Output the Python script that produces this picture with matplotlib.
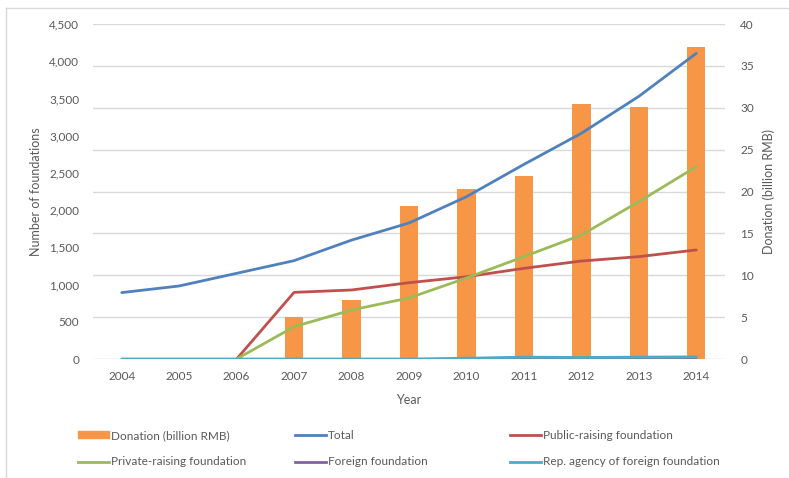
import numpy as np
import matplotlib.pyplot as plt
from matplotlib.lines import Line2D
from matplotlib.patches import Patch

plt.rcParams['font.family'] = ['Lato', 'DejaVu Sans']

# foundations in China, 2004-2014
years = ['2004', '2005', '2006', '2007', '2008', '2009', '2010', '2011', '2012', '2013', '2014']
donation = [np.nan, np.nan, np.nan, 5.0, 7.0, 18.3, 20.3, 21.9, 30.4, 30.1, 37.3]  # billion RMB
total = [892, 981, 1151, 1321, 1597, 1827, 2180, 2614, 3032, 3528, 4106]
public_raising = [np.nan, np.nan, 0, 895, 927, 1025, 1105, 1218, 1316, 1375, 1465]
private_raising = [np.nan, np.nan, 0, 434, 658, 820, 1088, 1375, 1666, 2113, 2583]
foreign = [0, 0, 0, 0, 0, 0, 0, 0, 0, 0, 0]
rep_agency = [0, 0, 0, 0, 0, 0, 10, 25, 20, 25, 29]

c_orange = '#F79646'
c_blue = '#4F81BD'
c_red = '#C0504D'
c_green = '#9BBB59'
c_purple = '#8064A2'
c_aqua = '#4BACC6'
txt = '#595959'
grid = '#D9D9D9'

W, H = 789, 478
fig = plt.figure(figsize=(W / 100, H / 100), dpi=100)
ax = fig.add_axes([93 / W, 1 - 359 / H, (725 - 93) / W, (359 - 24) / H])
ax2 = ax.twinx()

x = np.arange(len(years))

# bars on the secondary axis, drawn underneath the lines
ax2.bar(x, donation, width=0.32, color=c_orange, zorder=1)
ax2.set_ylim(0, 40)
ax2.set_yticks(range(0, 41, 5))

ax.set_zorder(ax2.get_zorder() + 1)
ax.patch.set_visible(False)

lw = 2.0
ax.plot(x, total, color=c_blue, lw=lw, solid_capstyle='round')
ax.plot(x, public_raising, color=c_red, lw=lw, solid_capstyle='round')
ax.plot(x, private_raising, color=c_green, lw=lw, solid_capstyle='round')
ax.plot(x, foreign, color=c_purple, lw=lw, solid_capstyle='round')
ax.plot(x, rep_agency, color=c_aqua, lw=lw, solid_capstyle='round')

ax.set_xlim(-0.5, len(years) - 0.5)
ax.set_ylim(0, 4500)
ax.set_yticks(range(0, 4501, 500))
ax.set_yticklabels([f'{v:,}' for v in range(0, 4501, 500)])
ax.set_xticks(x)
ax.set_xticklabels(years)

ax2.yaxis.grid(True, color=grid, lw=1)
ax2.set_axisbelow(True)

for a in (ax, ax2):
    for s in a.spines.values():
        s.set_visible(False)
    a.tick_params(length=0, labelsize=8.5, colors=txt)
ax.tick_params(axis='x', pad=9)
ax.tick_params(axis='y', pad=10)
ax2.tick_params(axis='y', pad=11)

ax.set_xlabel('Year', fontsize=9, color=txt, labelpad=8)
ax.set_ylabel('Number of foundations', fontsize=9, color=txt, labelpad=5)
ax2.set_ylabel('Donation (billion RMB)', fontsize=9, color=txt, labelpad=6)

# legend laid out in three evenly spaced columns
cols = [
    [(Patch(color=c_orange), 'Donation (billion RMB)'),
     (Line2D([], [], color=c_green, lw=lw), 'Private-raising foundation')],
    [(Line2D([], [], color=c_blue, lw=lw), 'Total'),
     (Line2D([], [], color=c_purple, lw=lw), 'Foreign foundation')],
    [(Line2D([], [], color=c_red, lw=lw), 'Public-raising foundation'),
     (Line2D([], [], color=c_aqua, lw=lw), 'Rep. agency of foreign foundation')],
]
for cx, col in zip([78, 295, 510], cols):
    leg = fig.legend([h for h, _ in col], [l for _, l in col],
                     loc='upper left', bbox_to_anchor=(cx / W, 1 - 430 / H),
                     frameon=False, fontsize=8.5, handlelength=2.6,
                     handleheight=0.5, handletextpad=0.2, labelspacing=1.3,
                     borderaxespad=0, borderpad=0)
    for t in leg.get_texts():
        t.set_color(txt)

# thin frame at top and left
fig.add_artist(Line2D([6 / W, 1], [1 - 8 / H, 1 - 8 / H], color=grid, lw=1))
fig.add_artist(Line2D([6 / W, 6 / W], [0, 1 - 8 / H], color=grid, lw=1))

fig.savefig('out.png', dpi=100)
